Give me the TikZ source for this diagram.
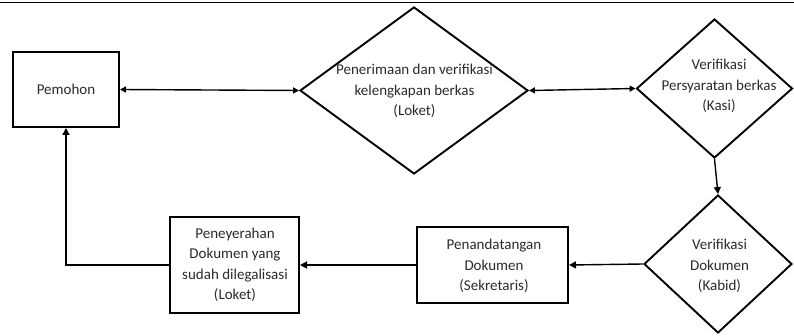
\documentclass[tikz,border=0pt]{standalone}
\usepackage{fontspec}
\setmainfont{Carlito}
\usetikzlibrary{shapes.geometric,arrows.meta}
\definecolor{txt}{HTML}{2A2A2A}
\tikzset{
  box/.style={draw=black,line width=2pt,inner sep=0pt},
  dia/.style={draw=black,line width=1.9pt,diamond,inner sep=0pt,aspect=1},
  lbl/.style={align=center,text=txt,font=\fontsize{15}{20.5}\selectfont,inner sep=0pt},
  conn/.style={line width=1.4pt,draw=black},
  tip/.style={-{Triangle[length=7pt,width=7pt]}},
  tips/.style={{Triangle[length=6pt,width=6pt]}-{Triangle[length=6pt,width=6pt]}}
}
\begin{document}
\begin{tikzpicture}[x=1pt,y=-1pt]
\useasboundingbox (0,0) rectangle (794,336);
\coordinate (tl) at (0,2.5);
\coordinate (tr) at (794,2.5);
\draw[line width=1.2pt] (tl) -- (tr);
% boxes
\node[box,minimum width=106pt,minimum height=75pt] (pem) at (66,89.5) {};
\node[lbl] (pemt) at (66,89.5) {Pemohon};
\node[box,minimum width=151pt,minimum height=76pt] (ttd) at (492.5,265) {};
\node[lbl] (ttdt) at (494,266) {Penandatangan\\Dokumen\\(Sekretaris)};
\node[box,minimum width=129pt,minimum height=96pt] (ser) at (234.5,265) {};
\node[lbl] (sert) at (235,265) {Peneyerahan\\Dokumen yang\\sudah dilegalisasi\\(Loket)};
% diamonds
\node[dia,minimum width=228pt,minimum height=167pt] (d1) at (414,90.5) {};
\node[lbl] (d1t) at (414.5,91) {Penerimaan dan verifikasi\\kelengkapan berkas\\(Loket)};
\node[dia,minimum width=156pt,minimum height=139pt] (d2) at (714.5,88.5) {};
\node[lbl] (d2t) at (719,86) {Verifikasi\\Persyaratan berkas\\(Kasi)};
\node[dia,minimum width=148pt,minimum height=138pt] (d3) at (718,264) {};
\node[lbl] (d3t) at (719.5,266) {Verifikasi\\Dokumen\\(Kabid)};
% connectors
\draw[conn,tips] (pem.east) -- (d1.west);
\draw[conn,tips] (d1.east) -- (d2.west);
\draw[conn,tip] (d2.south) -- (d3.north);
\draw[conn,tip] (d3.west) -- (ttd.east);
\draw[conn,tip] (ttd.west) -- (ser.east);
\draw[conn,tip] (ser.west) -| (pem.south);
\end{tikzpicture}
\end{document}
